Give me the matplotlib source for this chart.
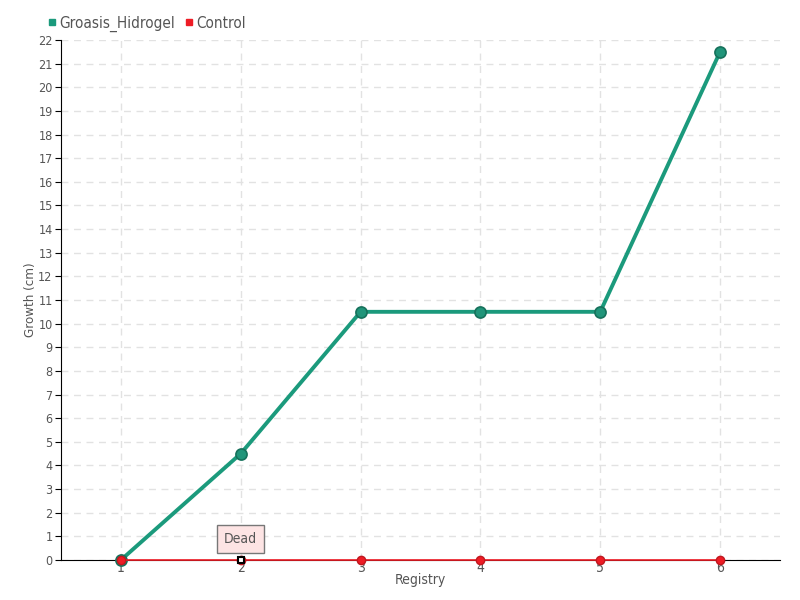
import matplotlib
matplotlib.use("Agg")
import matplotlib.pyplot as plt
from matplotlib.lines import Line2D

plt.rcParams['font.family'] = ['DejaVu Sans']
plt.rcParams['font.stretch'] = 'condensed'

registry = [1, 2, 3, 4, 5, 6]
groasis = [0, 4.5, 10.5, 10.5, 10.5, 21.5]
control = [0, 0, 0, 0, 0, 0]
y_ticks = list(range(0, 23))

green = '#1b9a7c'
red = '#ee1c25'
txt = '#555555'

fig = plt.figure(figsize=(8, 6), dpi=100)
ax = fig.add_axes([61/800, 40/600, (780-61)/800, (560-40)/600])

ax.plot(registry, groasis, color=green, lw=2.8, marker='o', ms=8,
        markerfacecolor='#21957a', markeredgecolor='#16715b', markeredgewidth=1.2,
        zorder=3, clip_on=False)
ax.plot(registry, control, color=red, lw=1.2, marker='o', ms=6,
        markerfacecolor=red, markeredgecolor='#c0181f', zorder=4, clip_on=False)
# dead marker
ax.plot([2], [0], marker='s', ms=5, markerfacecolor='white', markeredgecolor='black',
        markeredgewidth=1.5, zorder=5, clip_on=False)
ax.annotate('Dead', xy=(2, 0), xytext=(2, 0.9), ha='center', va='center',
            fontsize=10, color=txt,
            bbox=dict(boxstyle='square,pad=0.5', fc='#fde4e4', ec='#777777', lw=1),
            zorder=6)

ax.set_xlim(0.5, 6.5)
ax.set_ylim(0, 22)
ax.set_xticks(registry)
ax.set_yticks(y_ticks)
ax.grid(True, linestyle=(0, (5, 4)), color='#e2e2e2', lw=1)
ax.set_axisbelow(True)
for s in ['top', 'right']:
    ax.spines[s].set_visible(False)
ax.spines['left'].set_color('black')
ax.spines['bottom'].set_color('black')
ax.tick_params(axis='y', length=4, labelsize=9, labelcolor=txt, pad=2)
ax.tick_params(axis='x', length=0, labelsize=10, labelcolor=txt, pad=1)
ax.set_xlabel('Registry', fontsize=10, color=txt, labelpad=-2)
ax.set_ylabel('Growth (cm)', fontsize=9.5, color=txt)
ax.yaxis.set_label_coords(-0.033, 0.5)

handles = [Line2D([], [], ls='', marker='s', ms=5, color=green),
           Line2D([], [], ls='', marker='s', ms=5, color=red)]
fig.legend(handles, ['Groasis_Hidrogel', 'Control'], loc='upper left',
           bbox_to_anchor=(32/800, 1 - 2/600), ncol=2, frameon=False,
           fontsize=11, labelcolor=txt, handletextpad=0.1, columnspacing=0.5,
           handlelength=0.8)

fig.savefig('out.png', dpi=100)
